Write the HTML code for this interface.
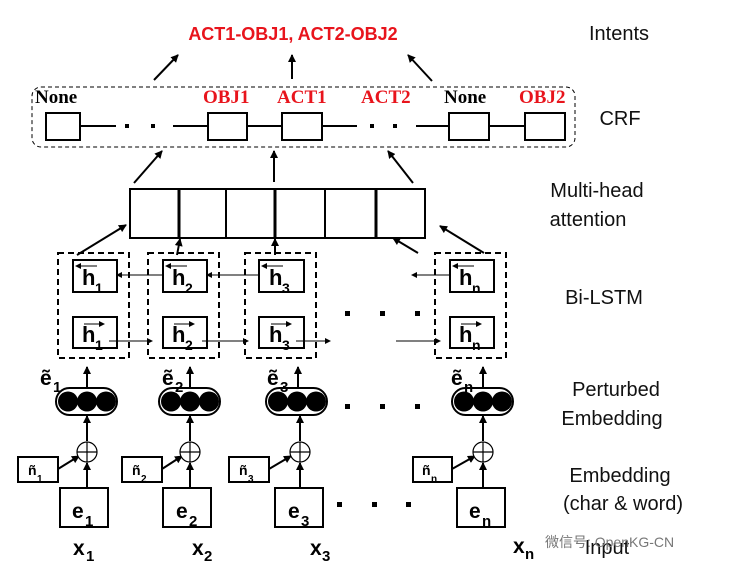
<!DOCTYPE html>
<html><head><meta charset="utf-8"><style>
body{margin:0;background:#fff;}
svg{display:block;}
.lb{font-family:"Liberation Sans",sans-serif;font-size:20px;fill:#111;}
.sub{font-family:"Liberation Sans",sans-serif;font-weight:bold;fill:#000;}
</style></head><body>
<svg width="732" height="575" viewBox="0 0 732 575" xmlns="http://www.w3.org/2000/svg">
<defs>
<marker id="a" markerWidth="8" markerHeight="8" refX="7" refY="4" orient="auto" markerUnits="userSpaceOnUse"><path d="M0,0 L8,4 L0,8 z" fill="#000"/></marker>
<marker id="s" markerWidth="6" markerHeight="6" refX="5" refY="3" orient="auto" markerUnits="userSpaceOnUse"><path d="M0,0 L6,3 L0,6 z" fill="#000"/></marker>
</defs>
<text x="293" y="40" text-anchor="middle" font-family="Liberation Sans,sans-serif" font-weight="bold" font-size="18" fill="#e8141c">ACT1-OBJ1, ACT2-OBJ2</text>
<g stroke="#000" stroke-width="2" marker-end="url(#a)">
<line x1="154" y1="80" x2="178" y2="55"/><line x1="292" y1="79" x2="292" y2="55"/><line x1="432" y1="81" x2="408" y2="55"/>
</g>
<rect x="32" y="87" width="543" height="60" rx="9" fill="none" stroke="#000" stroke-dasharray="4,3" stroke-width="1"/>
<g font-family="Liberation Serif,serif" font-weight="bold" font-size="19">
<text x="35" y="103" fill="#000">None</text>
<text x="203" y="103" fill="#e8141c">OBJ1</text>
<text x="277" y="103" fill="#e8141c">ACT1</text>
<text x="361" y="103" fill="#e8141c">ACT2</text>
<text x="444" y="103" fill="#000">None</text>
<text x="519" y="103" fill="#e8141c">OBJ2</text>
</g>
<g stroke="#000" stroke-width="2" fill="#fff">
<line x1="80" y1="126" x2="116" y2="126"/><line x1="173" y1="126" x2="208" y2="126"/><line x1="247" y1="126" x2="282" y2="126"/><line x1="322" y1="126" x2="357" y2="126"/><line x1="416" y1="126" x2="449" y2="126"/><line x1="489" y1="126" x2="525" y2="126"/>
<rect x="46" y="113" width="34" height="27"/><rect x="208" y="113" width="39" height="27"/><rect x="282" y="113" width="40" height="27"/><rect x="449" y="113" width="40" height="27"/><rect x="525" y="113" width="40" height="27"/>
</g>
<g fill="#000"><rect x="125" y="124" width="4" height="4"/><rect x="151" y="124" width="4" height="4"/><rect x="370" y="124" width="4" height="4"/><rect x="393" y="124" width="4" height="4"/></g>
<g stroke="#000" stroke-width="2" marker-end="url(#a)">
<line x1="134" y1="183" x2="162" y2="151"/><line x1="274" y1="182" x2="274" y2="151"/><line x1="413" y1="183" x2="388" y2="151"/>
</g>
<g stroke="#000" fill="none">
<rect x="130" y="189" width="295" height="49" stroke-width="2"/>
<line x1="179" y1="189" x2="179" y2="238" stroke-width="3"/><line x1="226" y1="189" x2="226" y2="238" stroke-width="2"/><line x1="275" y1="189" x2="275" y2="238" stroke-width="3"/><line x1="325" y1="189" x2="325" y2="238" stroke-width="2"/><line x1="376" y1="189" x2="376" y2="238" stroke-width="3"/>
</g>
<g stroke="#000" stroke-width="2" marker-end="url(#a)">
<line x1="77" y1="255" x2="126" y2="225"/><line x1="177" y1="255" x2="180" y2="239"/><line x1="275" y1="255" x2="275" y2="239"/><line x1="418" y1="253" x2="393" y2="238"/><line x1="484" y1="253" x2="440" y2="226"/>
</g>
<g stroke="#000" stroke-width="2" fill="none" stroke-dasharray="6,4">
<rect x="58" y="253" width="71" height="105"/><rect x="148" y="253" width="71" height="105"/><rect x="245" y="253" width="71" height="105"/><rect x="435" y="253" width="71" height="105"/>
</g>
<g stroke="#000" stroke-width="2" fill="#fff">
<rect x="73" y="260" width="44" height="32"/><rect x="73" y="317" width="44" height="31"/>
<rect x="163" y="260" width="44" height="32"/><rect x="163" y="317" width="44" height="31"/>
<rect x="259" y="260" width="45" height="32"/><rect x="259" y="317" width="45" height="31"/>
<rect x="450" y="260" width="44" height="32"/><rect x="450" y="317" width="44" height="31"/>
</g>
<g class="sub">
<g font-size="22"><text x="82" y="285">h</text><text x="172" y="285">h</text><text x="269" y="285">h</text><text x="459" y="285">h</text>
<text x="82" y="342">h</text><text x="172" y="342">h</text><text x="269" y="342">h</text><text x="459" y="342">h</text></g>
<g font-size="14"><text x="95" y="293">1</text><text x="185" y="293">2</text><text x="282" y="293">3</text><text x="472" y="293">n</text>
<text x="95" y="350">1</text><text x="185" y="350">2</text><text x="282" y="350">3</text><text x="472" y="350">n</text></g>
</g>
<g stroke="#000" stroke-width="1" marker-end="url(#s)">
<line x1="97" y1="266" x2="76" y2="266"/><line x1="187" y1="266" x2="166" y2="266"/><line x1="283" y1="266" x2="262" y2="266"/><line x1="474" y1="266" x2="453" y2="266"/>
<line x1="84" y1="324" x2="104" y2="324"/><line x1="174" y1="324" x2="194" y2="324"/><line x1="271" y1="324" x2="291" y2="324"/><line x1="461" y1="324" x2="481" y2="324"/>
<line x1="163" y1="275" x2="117" y2="275"/><line x1="259" y1="275" x2="207" y2="275"/><line x1="450" y1="275" x2="412" y2="275"/>
<line x1="109" y1="341" x2="152" y2="341"/><line x1="202" y1="341" x2="248" y2="341"/><line x1="296" y1="341" x2="330" y2="341"/><line x1="396" y1="341" x2="440" y2="341"/>
</g>
<g fill="#000"><rect x="345" y="311" width="5" height="5"/><rect x="380" y="311" width="5" height="5"/><rect x="415" y="311" width="5" height="5"/>
<rect x="345" y="404" width="5" height="5"/><rect x="380" y="404" width="5" height="5"/><rect x="415" y="404" width="5" height="5"/>
<rect x="337" y="502" width="5" height="5"/><rect x="372" y="502" width="5" height="5"/><rect x="406" y="502" width="5" height="5"/></g>
<g stroke="#000" stroke-width="2" fill="none">
<rect x="56" y="388" width="61" height="27" rx="13.5"/><rect x="159" y="388" width="61" height="27" rx="13.5"/><rect x="266" y="388" width="61" height="27" rx="13.5"/><rect x="452" y="388" width="61" height="27" rx="13.5"/>
</g>
<g fill="#000">
<circle cx="68" cy="401.5" r="10"/><circle cx="87" cy="401.5" r="10"/><circle cx="106" cy="401.5" r="10"/>
<circle cx="171" cy="401.5" r="10"/><circle cx="190" cy="401.5" r="10"/><circle cx="209" cy="401.5" r="10"/>
<circle cx="278" cy="401.5" r="10"/><circle cx="297" cy="401.5" r="10"/><circle cx="316" cy="401.5" r="10"/>
<circle cx="464" cy="401.5" r="10"/><circle cx="483" cy="401.5" r="10"/><circle cx="502" cy="401.5" r="10"/>
</g>
<g stroke="#000" stroke-width="2" marker-end="url(#a)">
<line x1="87" y1="388" x2="87" y2="367"/><line x1="190" y1="388" x2="190" y2="367"/><line x1="298" y1="388" x2="298" y2="367"/><line x1="483" y1="388" x2="483" y2="367"/>
<line x1="87" y1="441" x2="87" y2="416"/><line x1="190" y1="441" x2="190" y2="416"/><line x1="300" y1="441" x2="300" y2="416"/><line x1="483" y1="441" x2="483" y2="416"/>
<line x1="87" y1="488" x2="87" y2="463"/><line x1="190" y1="488" x2="190" y2="463"/><line x1="300" y1="488" x2="300" y2="463"/><line x1="483" y1="488" x2="483" y2="463"/>
<line x1="58" y1="469" x2="79" y2="456"/><line x1="162" y1="469" x2="182" y2="456"/><line x1="269" y1="469" x2="291" y2="456"/><line x1="452" y1="469" x2="475" y2="456"/>
</g>
<g stroke="#000" stroke-width="1.2" fill="#fff">
<circle cx="87" cy="452" r="10"/><circle cx="190" cy="452" r="10"/><circle cx="300" cy="452" r="10"/><circle cx="483" cy="452" r="10"/>
</g>
<g stroke="#000" stroke-width="1.2">
<path d="M77,452h20M87,442v20"/><path d="M180,452h20M190,442v20"/><path d="M290,452h20M300,442v20"/><path d="M473,452h20M483,442v20"/>
</g>
<g stroke="#000" stroke-width="2" fill="#fff">
<rect x="18" y="457" width="40" height="25"/><rect x="122" y="457" width="40" height="25"/><rect x="229" y="457" width="40" height="25"/><rect x="413" y="457" width="39" height="25"/>
<rect x="60" y="488" width="48" height="39"/><rect x="163" y="488" width="48" height="39"/><rect x="275" y="488" width="48" height="39"/><rect x="457" y="488" width="48" height="39"/>
</g>
<g class="sub">
<g font-size="21"><text x="40" y="385">ẽ</text><text x="162" y="385">ẽ</text><text x="267" y="385">ẽ</text><text x="451" y="385">ẽ</text>
<text x="72" y="518">e</text><text x="176" y="518">e</text><text x="288" y="518">e</text><text x="469" y="518">e</text>
<text x="73" y="555">x</text><text x="192" y="555">x</text><text x="310" y="555">x</text><text x="513" y="553">x</text></g>
<g font-size="15"><text x="53" y="392">1</text><text x="175" y="392">2</text><text x="280" y="392">3</text><text x="464" y="392">n</text>
<text x="85" y="526">1</text><text x="189" y="526">2</text><text x="301" y="526">3</text><text x="482" y="526">n</text>
<text x="86" y="561">1</text><text x="204" y="561">2</text><text x="322" y="561">3</text><text x="525" y="559">n</text></g>
<g font-size="14"><text x="28" y="475">ñ</text><text x="132" y="475">ñ</text><text x="239" y="475">ñ</text><text x="422" y="475">ñ</text></g>
<g font-size="10"><text x="37" y="482">1</text><text x="141" y="482">2</text><text x="248" y="482">3</text><text x="431" y="482">n</text></g>
</g>
<g class="lb">
<text x="619" y="40" text-anchor="middle">Intents</text>
<text x="620" y="125" text-anchor="middle">CRF</text>
<text x="597" y="197" text-anchor="middle">Multi-head</text>
<text x="588" y="226" text-anchor="middle">attention</text>
<text x="604" y="304" text-anchor="middle">Bi-LSTM</text>
<text x="616" y="396" text-anchor="middle">Perturbed</text>
<text x="612" y="425" text-anchor="middle">Embedding</text>
<text x="620" y="482" text-anchor="middle">Embedding</text>
<text x="623" y="510" text-anchor="middle">(char &amp; word)</text>
<text x="607" y="554" text-anchor="middle">Input</text>
</g>
<text x="545" y="547" font-family="Liberation Sans,'Noto Sans CJK SC',sans-serif" font-size="14" fill="#777">微信号: OpenKG-CN</text>
</svg>
</body></html>
